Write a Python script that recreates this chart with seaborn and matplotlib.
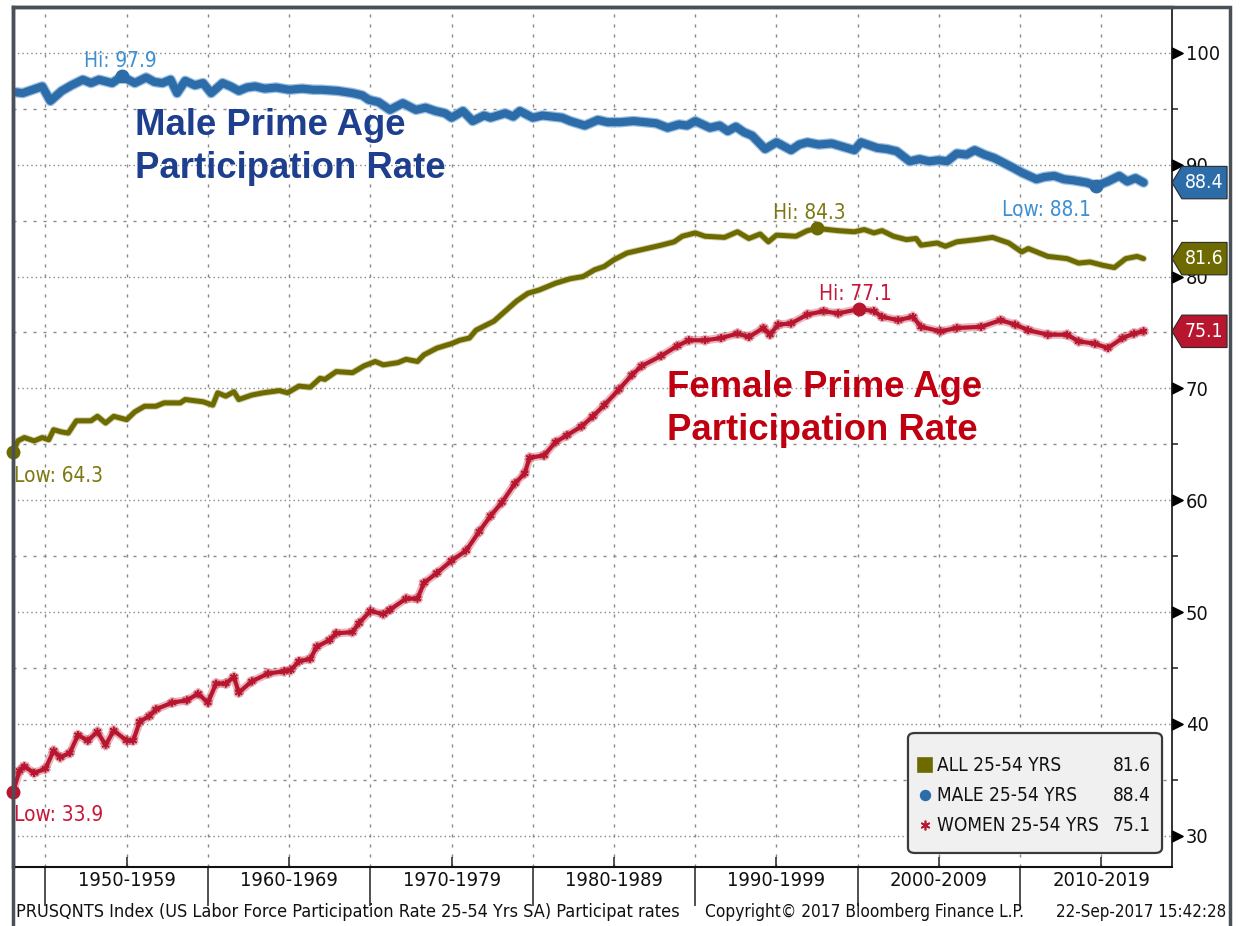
import numpy as np
import pandas as pd
import seaborn as sns
import matplotlib.pyplot as plt
import matplotlib.patheffects as pe
import matplotlib.transforms as mtransforms
from matplotlib import font_manager as fm
from matplotlib.path import Path
from matplotlib.patches import Polygon, FancyBboxPatch, Rectangle
from matplotlib.ticker import FixedLocator, FixedFormatter, NullFormatter

male_years = [1948.0, 1948.6, 1949.2, 1949.8, 1950.3, 1951.0, 1951.6, 1952.3, 1952.8, 1953.3,
              1954.1, 1954.7, 1955.5, 1956.2, 1956.7, 1957.2, 1957.7, 1958.1, 1958.6, 1959.2,
              1959.7, 1960.2, 1960.9, 1961.4, 1961.9, 1962.4, 1962.9, 1963.5, 1964.2, 1965.0,
              1965.8, 1966.5, 1967.0, 1968.0, 1968.9, 1969.5, 1969.9, 1970.5, 1971.2, 1972.0,
              1972.8, 1973.4, 1974.0, 1974.6, 1975.0, 1975.7, 1976.3, 1977.0, 1977.4, 1978.3,
              1978.8, 1979.2, 1980.0, 1980.6, 1981.2, 1981.8, 1982.3, 1983.2, 1984.0, 1984.6,
              1985.4, 1986.2, 1986.9, 1987.6, 1988.3, 1989.0, 1989.5, 1990.0, 1990.9, 1991.5,
              1992.0, 1992.5, 1993.0, 1993.5, 1994.3, 1995.0, 1995.9, 1996.4, 1996.9, 1997.6,
              1998.4, 1999.1, 1999.8, 2000.2, 2001.2, 2001.8, 2002.4, 2003.2, 2003.8, 2004.4,
              2005.0, 2005.5, 2006.1, 2006.7, 2007.2, 2007.8, 2008.4, 2009.2, 2009.6, 2010.1,
              2011.0, 2011.5, 2012.1, 2012.7, 2013.3, 2014.1, 2014.7, 2015.4, 2016.1, 2016.6,
              2017.1, 2017.6]
male_rate = [96.5, 96.4, 96.7, 97.0, 95.7, 96.6, 97.1, 97.6, 97.3, 97.6,
             97.3, 97.9, 97.3, 97.8, 97.4, 97.3, 97.6, 96.4, 97.5, 97.1,
             97.3, 96.4, 97.3, 97.0, 96.6, 96.9, 97.0, 96.8, 96.9, 96.7,
             96.8, 96.7, 96.7, 96.6, 96.4, 96.2, 95.8, 95.6, 94.9, 95.5,
             94.9, 95.1, 94.8, 94.6, 94.2, 94.8, 93.9, 94.4, 94.2, 94.6,
             94.3, 94.8, 94.2, 94.4, 94.3, 94.2, 93.9, 93.5, 94.0, 93.8,
             93.8, 93.9, 93.8, 93.7, 93.3, 93.6, 93.5, 93.9, 93.3, 93.5,
             93.0, 93.4, 92.9, 92.6, 91.4, 92.0, 91.3, 91.8, 92.0, 91.8,
             91.9, 91.6, 91.3, 92.0, 91.5, 91.4, 91.2, 90.3, 90.5, 90.3,
             90.4, 90.3, 91.0, 90.9, 91.3, 90.9, 90.6, 90.0, 89.7, 89.3,
             88.7, 88.9, 89.0, 88.7, 88.6, 88.4, 88.1, 88.5, 89.0, 88.5,
             88.8, 88.4]

all_years = [1948.0, 1948.3, 1948.7, 1949.3, 1949.8, 1950.2, 1950.5, 1951.0, 1951.4, 1951.9,
             1952.8, 1953.2, 1953.7, 1954.2, 1955.0, 1955.5, 1956.1, 1956.8, 1957.3, 1958.3,
             1958.6, 1959.7, 1960.3, 1960.6, 1961.1, 1961.6, 1961.9, 1962.7, 1963.4, 1964.4,
             1964.9, 1965.6, 1966.3, 1966.9, 1967.2, 1967.9, 1968.9, 1969.6, 1970.3, 1970.8,
             1971.7, 1972.2, 1972.9, 1973.3, 1974.1, 1975.0, 1975.5, 1976.1, 1976.5, 1977.6,
             1978.3, 1979.0, 1979.7, 1980.4, 1981.4, 1982.3, 1983.1, 1983.8, 1984.4, 1985.0,
             1985.8, 1986.7, 1987.9, 1988.7, 1989.2, 1990.0, 1990.6, 1991.8, 1992.6, 1993.3,
             1994.0, 1994.5, 1995.0, 1996.2, 1996.9, 1997.5, 1998.8, 1999.8, 2000.4, 2001.0,
             2001.5, 2002.2, 2003.0, 2003.6, 2003.9, 2004.9, 2005.4, 2006.1, 2007.3, 2008.3,
             2009.3, 2010.1, 2010.5, 2011.7, 2012.9, 2013.6, 2014.3, 2015.1, 2015.8, 2016.5,
             2017.2, 2017.6]
all_rate = [64.3, 65.3, 65.6, 65.3, 65.6, 65.4, 66.3, 66.1, 66.0, 67.1,
            67.1, 67.5, 66.9, 67.5, 67.2, 67.9, 68.4, 68.4, 68.7, 68.7,
            69.0, 68.8, 68.5, 69.6, 69.3, 69.7, 69.0, 69.4, 69.6, 69.8,
            69.6, 70.2, 70.1, 70.9, 70.8, 71.5, 71.4, 72.0, 72.4, 72.1,
            72.3, 72.6, 72.4, 73.0, 73.6, 74.0, 74.3, 74.5, 75.2, 76.0,
            76.9, 77.8, 78.5, 78.8, 79.4, 79.8, 80.0, 80.6, 80.9, 81.5,
            82.1, 82.4, 82.8, 83.1, 83.6, 83.9, 83.6, 83.5, 84.0, 83.4,
            83.8, 83.1, 83.7, 83.6, 84.1, 84.3, 84.1, 84.0, 84.2, 83.9,
            84.1, 83.6, 83.3, 83.4, 82.8, 83.0, 82.7, 83.1, 83.3, 83.5,
            83.0, 82.2, 82.5, 81.8, 81.6, 81.2, 81.3, 81.0, 80.8, 81.6,
            81.8, 81.6]

women_years = [1948.0, 1948.4, 1948.7, 1949.3, 1950.0, 1950.5, 1950.9, 1951.5, 1952.0, 1952.6,
               1953.2, 1953.7, 1954.2, 1955.0, 1955.4, 1955.8, 1956.4, 1956.8, 1957.8, 1958.7,
               1959.4, 1960.0, 1960.5, 1961.1, 1961.6, 1961.9, 1962.7, 1963.7, 1964.7, 1965.1,
               1965.6, 1966.3, 1966.7, 1967.5, 1967.9, 1968.9, 1969.3, 1970.0, 1970.8, 1971.2,
               1972.2, 1972.9, 1973.3, 1974.1, 1975.0, 1975.9, 1976.7, 1977.4, 1978.1, 1978.9,
               1979.5, 1979.8, 1980.7, 1981.4, 1982.1, 1983.0, 1983.7, 1984.4, 1985.3, 1986.1,
               1986.7, 1987.9, 1988.9, 1989.6, 1990.6, 1991.6, 1992.6, 1993.3, 1994.2, 1994.6,
               1995.1, 1995.9, 1996.9, 1997.9, 1998.8, 2000.1, 2001.0, 2001.5, 2002.5, 2003.4,
               2003.9, 2005.1, 2006.1, 2007.6, 2008.8, 2009.7, 2010.5, 2011.7, 2012.9, 2013.6,
               2014.6, 2015.4, 2016.3, 2017.0, 2017.6]
women_rate = [33.9, 35.8, 36.2, 35.6, 36.0, 37.6, 37.0, 37.4, 39.0, 38.5,
              39.3, 38.1, 39.4, 38.5, 38.5, 40.2, 40.7, 41.3, 41.9, 42.1,
              42.7, 41.9, 43.6, 43.6, 44.2, 42.8, 43.8, 44.5, 44.7, 44.8,
              45.6, 45.8, 46.9, 47.5, 48.1, 48.2, 49.0, 50.1, 49.8, 50.2,
              51.2, 51.2, 52.6, 53.5, 54.6, 55.5, 57.2, 58.6, 59.8, 61.5,
              62.4, 63.8, 64.0, 65.2, 65.8, 66.6, 67.5, 68.5, 69.9, 71.2,
              72.0, 72.9, 73.8, 74.3, 74.3, 74.5, 74.9, 74.6, 75.4, 74.8,
              75.7, 75.8, 76.6, 76.9, 76.7, 77.1, 76.9, 76.4, 76.1, 76.4,
              75.5, 75.1, 75.4, 75.5, 76.1, 75.7, 75.2, 74.8, 74.8, 74.2,
              74.0, 73.6, 74.5, 74.9, 75.1]

decade_starts = [1950, 1960, 1970, 1980, 1990, 2000, 2010]
decade_labels = ["1950-1959", "1960-1969", "1970-1979", "1980-1989",
                 "1990-1999", "2000-2009", "2010-2019"]
y_major = [30, 40, 50, 60, 70, 80, 90, 100]
y_minor = [35, 45, 55, 65, 75, 85, 95]
legend_names = ["ALL 25-54 YRS", "MALE 25-54 YRS", "WOMEN 25-54 YRS"]
footer_left = "PRUSQNTS Index (US Labor Force Participation Rate 25-54 Yrs SA) Participat rates"
footer_mid = "Copyright\u00a9 2017 Bloomberg Finance L.P."
footer_right = "22-Sep-2017 15:42:28"

BLUE = "#2c6ca9"
BLUE_LBL = "#3d8fd3"
OLIVE = "#6d6a00"
OLIVE_LBL = "#7d7812"
RED = "#b8152f"
RED_LBL = "#c8163a"

W, H = 1243, 926
sns.set_theme(style="white")

# pick the narrowest sans available for the Bloomberg-style small text
faces = {(f.name, f.stretch) for f in fm.fontManager.ttflist}
if any(n == "Liberation Sans Narrow" for n, s in faces):
    NARROW, STRETCH = ["Liberation Sans Narrow", "DejaVu Sans"], "normal"
elif ("DejaVu Sans", "condensed") in faces:
    NARROW, STRETCH = ["DejaVu Sans"], "condensed"
else:
    NARROW, STRETCH = ["Liberation Sans", "DejaVu Sans"], "normal"
plt.rcParams["font.family"] = NARROW
plt.rcParams["font.stretch"] = STRETCH
BOLD = ["Liberation Sans", "DejaVu Sans"]

fig = plt.figure(figsize=(W / 100, H / 100), dpi=100)
ax = fig.add_axes([13 / W, 1 - 867 / H, 1159 / W, 860 / H])


def size_for(s, width_px):
    t = fig.text(0, 0, s, fontsize=10)
    w = t.get_window_extent(fig.canvas.get_renderer()).width
    t.remove()
    return 10 * width_px / w


tick_fs = size_for("1950-1959", 98)
foot_left_fs = size_for(footer_left, 664)
foot_mid_fs = size_for(footer_mid, 320)
foot_right_fs = size_for(footer_right, 170)
leg_fs = size_for("WOMEN 25-54 YRS 75.1", 206)
tag_fs = size_for("88.4", 39)
lbl_fs = size_for("Low: 64.3", 89)

male_df = pd.DataFrame({"year": male_years, "rate": male_rate})
all_df = pd.DataFrame({"year": all_years, "rate": all_rate})
women_df = pd.DataFrame({"year": women_years, "rate": women_rate})

sns.lineplot(data=all_df, x="year", y="rate", ax=ax, color=OLIVE, linewidth=3.6,
             estimator=None, zorder=4,
             path_effects=[pe.Stroke(linewidth=5, foreground="#b5b27a", alpha=0.6), pe.Normal()])
sns.lineplot(data=women_df, x="year", y="rate", ax=ax, color=RED, linewidth=3.0,
             estimator=None, zorder=4, marker=(6, 2, 0), markersize=5.5, markeredgewidth=1.0,
             markeredgecolor=RED,
             path_effects=[pe.Stroke(linewidth=6, foreground=RED, alpha=0.3), pe.Normal()])
sns.lineplot(data=male_df, x="year", y="rate", ax=ax, color=BLUE, linewidth=5.8,
             estimator=None, zorder=5,
             path_effects=[pe.Stroke(linewidth=7.6, foreground="#9cc0e2"), pe.Normal()])


# Hi / Low markers and labels
def mark(years, rates, kind, color, lblcolor, dx, dy, ha="center"):
    i = int(np.argmax(rates)) if kind == "Hi" else int(np.argmin(rates))
    ax.plot([years[i]], [rates[i]], "o", color=color, markersize=9, zorder=6, clip_on=False)
    ax.annotate(f"{kind}: {rates[i]:.1f}", (years[i], rates[i]), xytext=(dx, dy),
                textcoords="offset pixels", ha=ha, va="baseline", fontsize=lbl_fs,
                color=lblcolor, zorder=7)


mark(male_years, male_rate, "Hi", BLUE, BLUE_LBL, -2, 9)
mark(male_years, male_rate, "Low", BLUE, BLUE_LBL, -50, -30)
mark(all_years, all_rate, "Hi", OLIVE, OLIVE_LBL, -8, 9)
mark(all_years, all_rate, "Low", OLIVE, OLIVE_LBL, 1, -30, ha="left")
mark(women_years, women_rate, "Hi", RED, RED_LBL, -4, 9)
mark(women_years, women_rate, "Low", RED, RED_LBL, 1, -29, ha="left")

ax.set_xlim(1948.0, 2019.35)
ax.set_ylim(27.2, 104.1)
ax.set_xlabel("")
ax.set_ylabel("")

# x axis: decade separators + centred decade labels
ax.xaxis.set_major_locator(FixedLocator(decade_starts))
ax.xaxis.set_major_formatter(NullFormatter())
ax.xaxis.set_minor_locator(FixedLocator([d + 5 for d in decade_starts]))
ax.xaxis.set_minor_formatter(FixedFormatter(decade_labels))
ax.tick_params(axis="x", which="major", direction="out", length=28, width=1.1,
               color="#202020", bottom=True)
ax.tick_params(axis="x", which="minor", direction="in", length=7, width=1.1,
               color="#202020", pad=3, labelsize=tick_fs, bottom=True, labelcolor="#111111")

# y axis on the right with triangle markers
ax.yaxis.tick_right()
ax.yaxis.set_major_locator(FixedLocator(y_major))
ax.yaxis.set_minor_locator(FixedLocator(y_minor))
ax.tick_params(axis="y", which="major", length=0, pad=10, labelsize=tick_fs,
               right=True, left=False, labelcolor="#111111")
ax.tick_params(axis="y", which="minor", direction="out", length=4, width=1.1,
               color="#202020", right=True, left=False)
tri = Path([(0, -0.5), (1, 0), (0, 0.5), (0, -0.5)],
           [Path.MOVETO, Path.LINETO, Path.LINETO, Path.CLOSEPOLY])
for t in ax.yaxis.get_major_ticks():
    t.tick2line.set_marker(tri)
    t.tick2line.set_markersize(15)
    t.tick2line.set_markerfacecolor("black")
    t.tick2line.set_markeredgecolor("black")

ax.grid(which="major", axis="y", color="#888888", linestyle=(0, (1, 2.2)), linewidth=1)
ax.grid(which="minor", axis="y", color="#888888", linestyle=(0, (2.2, 5)), linewidth=1)
ax.grid(which="both", axis="x", color="#888888", linestyle=(0, (2.2, 5)), linewidth=1)
ax.set_axisbelow(True)

for side in ["left", "top"]:
    ax.spines[side].set_color("#4a5058")
    ax.spines[side].set_linewidth(2.5)
ax.spines["right"].set_color("#111111")
ax.spines["right"].set_linewidth(1.2)
ax.spines["bottom"].set_color("#111111")
ax.spines["bottom"].set_linewidth(1.5)

# last-value tags on the right axis
blend = mtransforms.blended_transform_factory(ax.transAxes, ax.transData)
for v, c in [(male_rate[-1], BLUE), (all_rate[-1], OLIVE), (women_rate[-1], RED)]:
    h = 1.45
    ax.add_patch(Polygon([(1.0, v), (1.0085, v + h), (1.0475, v + h), (1.0475, v - h),
                          (1.0085, v - h)], closed=True, transform=blend, clip_on=False,
                         facecolor=c, edgecolor="#2a2a2a", linewidth=0.8, zorder=8))
    ax.text(1.0275, v, f"{v:.1f}", transform=blend, ha="center", va="center",
            color="white", fontsize=tag_fs, zorder=9, clip_on=False)

# legend box
ax.add_patch(FancyBboxPatch((0.7722, 0.0163), 0.2192, 0.1395,
                            boxstyle="round,pad=0,rounding_size=0.006",
                            transform=ax.transAxes, facecolor="#f0f0f0",
                            edgecolor="#3a3a3a", linewidth=1.6, zorder=10))
leg_rows = [(0.1186, OLIVE, "s", 10, all_rate[-1]),
            (0.0837, BLUE, "o", 7, male_rate[-1]),
            (0.0488, RED, (6, 2, 0), 7, women_rate[-1])]
for (yy, c, m, ms, v), name in zip(leg_rows, legend_names):
    ax.plot([0.7868], [yy], transform=ax.transAxes, marker=m, markersize=ms, color=c,
            markeredgecolor=c, markeredgewidth=1.2, linestyle="none", clip_on=False, zorder=11)
    ax.text(0.7975, yy, name, transform=ax.transAxes, ha="left", va="center",
            fontsize=leg_fs, color="#111111", zorder=11)
    ax.text(0.9815, yy, f"{v:.1f}", transform=ax.transAxes, ha="right", va="center",
            fontsize=leg_fs, color="#111111", zorder=11)

# big series captions
cap_fs = 26.3
fig.text(135 / W, 1 - 135 / H, "Male Prime Age", family=BOLD, stretch="normal",
         weight="bold", fontsize=cap_fs, color="#1d3f8e", va="baseline")
fig.text(135 / W, 1 - 178 / H, "Participation Rate", family=BOLD, stretch="normal",
         weight="bold", fontsize=cap_fs, color="#1d3f8e", va="baseline")
fig.text(667 / W, 1 - 397 / H, "Female Prime Age", family=BOLD, stretch="normal",
         weight="bold", fontsize=cap_fs, color="#c00010", va="baseline")
fig.text(667 / W, 1 - 440 / H, "Participation Rate", family=BOLD, stretch="normal",
         weight="bold", fontsize=cap_fs, color="#c00010", va="baseline")

# footer
fig.text(16 / W, 1 - 912 / H, footer_left, ha="left", va="center",
         fontsize=foot_left_fs, color="#111111")
fig.text(705 / W, 1 - 912 / H, footer_mid, ha="left", va="center",
         fontsize=foot_mid_fs, color="#111111")
fig.text(1226 / W, 1 - 912 / H, footer_right, ha="right", va="center",
         fontsize=foot_right_fs, color="#111111")

# outer frame
fig.add_artist(Rectangle((13 / W, -0.02), (1230 - 13) / W, 1 - 7 / H + 0.02,
                         transform=fig.transFigure, fill=False,
                         edgecolor="#4a5058", linewidth=2.5, zorder=20))

fig.savefig("out.png", dpi=100, facecolor="white")
